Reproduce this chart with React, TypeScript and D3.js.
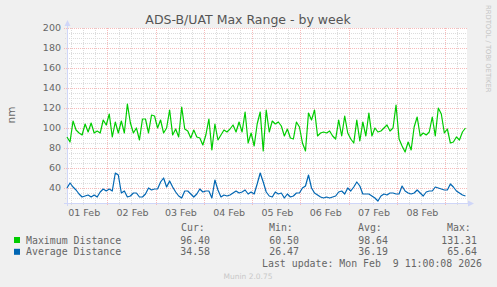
import * as d3 from 'd3'

// munin week graph: samples every 1.5h starting at the left edge
const startTime = new Date(2026, 0, 31, 4, 0)
const stepHours = 1.5
const spanHours = 198.76

const maxDistance = [
  91, 86, 107, 98, 95, 93, 104, 96, 105, 95,
  97, 95, 108, 103, 114, 91, 106, 95, 107, 95,
  124, 105, 95, 100, 88, 109, 109, 95, 113, 112,
  100, 108, 95, 100, 118, 93, 99, 91, 121, 99,
  97, 90, 98, 91, 90, 83, 93, 109, 78, 104,
  88, 93, 98, 96, 99, 103, 96, 106, 96, 116, 85,
  95, 82, 104, 116, 77, 118, 96, 107, 104, 106,
  102, 92, 99, 90, 89, 106, 101, 85, 77, 115,
  108, 118, 92, 95, 96, 95, 97, 92, 89, 108,
  92, 112, 95, 89, 85, 108, 87, 106, 92, 115,
  92, 100, 96, 97, 100, 103, 97, 100, 123, 89,
  82, 76, 86, 78, 101, 111, 92, 95, 93, 96,
  111, 92, 120, 114, 95, 99, 85, 86, 91, 88, 96, 100,
]

const avgDistance = [
  40, 45, 41, 38, 34, 31, 32, 33, 31, 33,
  31, 36, 39, 37, 39, 37, 55, 53, 35, 37,
  31, 32, 35, 35, 31, 31, 34, 40, 38, 39,
  39, 46, 50, 41, 47, 41, 36, 32, 30, 37,
  37, 34, 31, 34, 39, 36, 37, 37, 30, 48,
  38, 31, 33, 32, 33, 35, 37, 35, 36, 38, 34,
  36, 34, 44, 55, 46, 36, 32, 31, 36, 34,
  35, 30, 34, 31, 32, 35, 35, 40, 42, 53,
  40, 35, 33, 31, 30, 31, 30, 31, 32, 36,
  37, 34, 40, 37, 41, 46, 42, 34, 34, 34,
  32, 30, 27, 32, 34, 33, 35, 35, 34, 34,
  42, 37, 35, 34, 35, 38, 35, 32, 36, 37,
  37, 41, 40, 39, 38, 38, 44, 41, 37, 35, 33, 32,
]

const yTicks = [40, 60, 80, 100, 120, 140, 160, 180, 200]
const dayLabels = ['01 Feb', '02 Feb', '03 Feb', '04 Feb', '05 Feb', '06 Feb', '07 Feb', '08 Feb']

const seriesNames = ['Maximum Distance', 'Average Distance']
const seriesColors = ['#00cc00', '#0066b3']
const curValues = ['96.40', '34.58']
const minValues = ['60.50', '26.47']
const avgValues = ['98.64', '36.19']
const maxValues = ['131.31', '65.64']
const lastUpdate = 'Last update: Mon Feb\u00a0\u00a09 11:00:08 2026'

const W = 497
const H = 287
const left = 67
const right = 467
const top = 28
const bottom = 203

const sans = 'DejaVu Sans, sans-serif'
const mono = 'DejaVu Sans Mono, monospace'

const hour = 3600 * 1000

export default function App() {
  const x = d3
    .scaleTime()
    .domain([startTime, new Date(+startTime + spanHours * hour)])
    .range([left, right])
  const y = d3.scaleLinear().domain([25, 200]).range([bottom, top])

  const timeAt = (i: number) => new Date(+startTime + i * stepHours * hour)
  const line = d3
    .line<number>()
    .x((_, i) => x(timeAt(i)))
    .y((d) => y(d))

  const end = x.domain()[1]
  const sixHours = d3.timeHour.every(6)!.range(startTime, end)
  const minorX = sixHours.filter((d) => d.getHours() !== 0)
  const majorX = sixHours.filter((d) => d.getHours() === 0)
  const minorY = d3.range(25, 201, 5).filter((v) => v % 20 !== 0)

  // rrdtool puts the day label left of the midnight line
  const labelX = (i: number) => x(new Date(2026, 1, i + 1, 0, 0)) - 23

  return (
    <svg width={W} height={H} style={{ position: 'absolute', left: 0, top: 0 }}>
      <rect width={W} height={H} fill="#f0f0f0" />
      <rect x={left} y={top} width={right - left} height={bottom - top} fill="#ffffff" />

      {/* minor grid */}
      {minorY.map((v) => (
        <line key={'my' + v} x1={left - 2} x2={right} y1={y(v) + 0.5} y2={y(v) + 0.5}
          stroke="#dcdcdc" strokeDasharray="1,1" />
      ))}
      {minorX.map((d) => (
        <line key={'mx' + +d} x1={Math.round(x(d)) + 0.5} x2={Math.round(x(d)) + 0.5} y1={top} y2={bottom + 2}
          stroke="#dcdcdc" strokeDasharray="1,1" />
      ))}
      {/* major grid */}
      {yTicks.map((v) => (
        <line key={'My' + v} x1={left - 3} x2={right} y1={y(v) + 0.5} y2={y(v) + 0.5}
          stroke="#f7baba" strokeDasharray="1,1" />
      ))}
      {majorX.map((d) => (
        <line key={'Mx' + +d} x1={Math.round(x(d)) + 0.5} x2={Math.round(x(d)) + 0.5} y1={top} y2={bottom + 3}
          stroke="#f7baba" strokeDasharray="1,1" />
      ))}

      {/* axes */}
      <line x1={left + 0.5} x2={left + 0.5} y1={bottom + 3} y2={22} stroke="#cfd6f8" />
      <path d={`M${left - 2.5},${26} L${left + 0.5},${20} L${left + 3.5},${26} Z`} fill="#cfd6f8" />
      <line x1={left - 3} x2={469} y1={bottom + 0.5} y2={bottom + 0.5} stroke="#cfd6f8" />
      <path d={`M${468},${bottom - 2.5} L${474},${bottom + 0.5} L${468},${bottom + 3.5} Z`} fill="#cfd6f8" />

      {/* data */}
      <path d={line(maxDistance)!} fill="none" stroke={seriesColors[0]} strokeWidth={1.2} strokeLinejoin="round" />
      <path d={line(avgDistance)!} fill="none" stroke={seriesColors[1]} strokeWidth={1.2} strokeLinejoin="round" />

      {/* labels */}
      <text x={248} y={24} textAnchor="middle" fontFamily={sans} fontSize={12.5} fill="#555">
        ADS-B/UAT Max Range - by week
      </text>
      {yTicks.map((v) => (
        <text key={'yl' + v} x={61} y={y(v) + 3.4} textAnchor="end" fontFamily={sans} fontSize={9.5} fill="#666">
          {v}
        </text>
      ))}
      {dayLabels.map((s, i) => (
        <text key={s} x={labelX(i)} y={216} textAnchor="middle" fontFamily={sans} fontSize={9.5} fill="#666">
          {s}
        </text>
      ))}
      <text transform="translate(14.5,115) rotate(-90)" textAnchor="middle" fontFamily={sans} fontSize={10.5} fill="#666">
        nm
      </text>
      <text transform="translate(485.5,5) rotate(90)" fontFamily={sans} fontSize={6.8} fill="#c4c4c4">
        RRDTOOL / TOBI OETIKER
      </text>

      {/* legend */}
      <g fontFamily={mono} fontSize={9.9} fill="#666">
        <text x={181} y={231}>Cur:</text>
        <text x={269} y={231}>Min:</text>
        <text x={358} y={231}>Avg:</text>
        <text x={447} y={231}>Max:</text>
        {seriesNames.map((name, i) => {
          const ty = 243.5 + i * 11.8
          return (
            <g key={name}>
              <rect x={14} y={ty - 6.5} width={6} height={6} fill={seriesColors[i]} />
              <text x={26} y={ty}>{name}</text>
              <text x={210} y={ty} textAnchor="end">{curValues[i]}</text>
              <text x={299} y={ty} textAnchor="end">{minValues[i]}</text>
              <text x={388} y={ty} textAnchor="end">{avgValues[i]}</text>
              <text x={477} y={ty} textAnchor="end">{maxValues[i]}</text>
            </g>
          )
        })}
        <text x={482} y={267} textAnchor="end">{lastUpdate}</text>
      </g>
      <text x={248} y={278.5} textAnchor="middle" fontFamily={sans} fontSize={7.5} fill="#c8c8c8">
        Munin 2.0.75
      </text>
    </svg>
  )
}
